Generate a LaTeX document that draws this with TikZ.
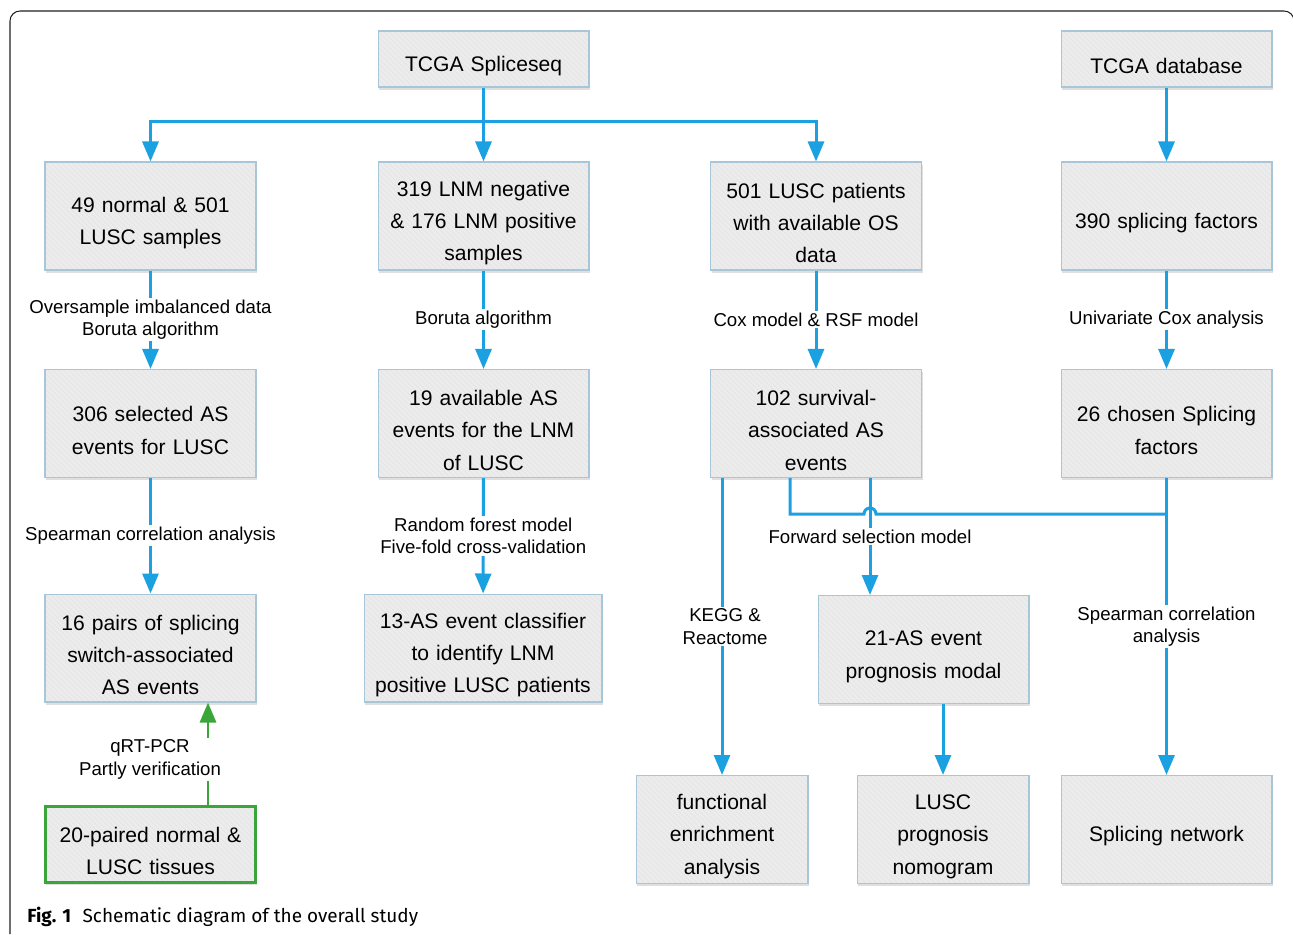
\documentclass[tikz,border=0pt]{standalone}
\usepackage{fontspec}
\setmainfont{Liberation Sans}
\newfontfamily\capfont{Fira Sans}
\usetikzlibrary{arrows.meta,patterns,shadows}
\definecolor{flowblue}{RGB}{27,161,226}
\definecolor{boxedge}{RGB}{168,198,218}
\definecolor{boxfill}{RGB}{236,236,236}
\definecolor{checkgreen}{RGB}{58,166,58}
\tikzset{
	box/.style={draw=boxedge, line width=0.6pt, align=center, text width=4cm,
		font=\fontsize{12}{18.4}\selectfont, minimum width=4.22cm, minimum height=2.16cm, inner sep=0pt,
		drop shadow={shadow xshift=0.6pt, shadow yshift=-1.6pt, opacity=0.25},
		preaction={fill=boxfill}, preaction={pattern=north west lines, pattern color=white!80!gray},
		execute at begin node={\rule{0pt}{16.6pt}}},
	flow/.style={draw=flowblue, line width=1.7pt, -{Triangle[length=4mm,width=3.2mm]}},
	flowline/.style={draw=flowblue, line width=1.7pt},
	verify/.style={draw=checkgreen, line width=1.7pt, -{Triangle[length=4mm,width=3.2mm]}},
	lbl/.style={fill=white, align=center, font=\fontsize{10.6}{12.8}\selectfont, inner sep=1pt},
}

\begin{document}
\begin{tikzpicture}[x=0.02cm, y=-0.02cm]
			%%%%% START %%%%%
			\useasboundingbox (0,0) rectangle (1293,934);
			\draw[gray!25!black, line width=0.6pt, rounded corners=0.2cm] (10,934) -- (10,11) -- (1294,11) -- (1294,934);
			
			\node[box, minimum height=1.12cm] (spliceseq) at (483.5,59) {TCGA Spliceseq};
			\node[box, minimum height=1.12cm] (tcgadb) at (1166.5,59) {TCGA database};
			
			\node[box] (normal) at (150.5,216) {49 normal \& 501\\LUSC samples};
			\node[box] (lnm) at (483.5,216) {319 LNM negative\\\& 176 LNM positive\\samples};
			\node[box] (os) at (816,216) {501 LUSC patients\\with available OS\\data};
			\node[box] (sf) at (1166.5,216) {390 splicing factors};
			
			\node[box] (sel) at (150.5,423.5) {306 selected AS\\events for LUSC};
			\node[box] (lnmas) at (483.5,423.5) {19 available AS\\events for the LNM\\of LUSC};
			\node[box] (surv) at (816,423.5) {102 survival-\\associated AS\\events};
			\node[box] (sfsel) at (1166.5,423.5) {26 chosen Splicing\\factors};
			
			\node[box] (pairs) at (150.5,648) {16 pairs of splicing\\switch-associated\\AS events};
			\node[box, minimum width=4.76cm, text width=4.6cm] (clf) at (483,648) {13-AS event classifier\\to identify LNM\\positive LUSC patients};
			\node[box] (prog) at (923.5,649.5) {21-AS event\\prognosis modal};
			
			\node[box, draw=checkgreen, line width=1.7pt, minimum height=1.52cm] (tissue) at (150.5,844) {20-paired normal \&\\LUSC tissues};
			\node[box, minimum width=3.44cm, text width=3.3cm] (func) at (722,829.5) {functional\\enrichment\\analysis};
			\node[box, minimum width=3.44cm, text width=3.3cm] (nomo) at (943,829.5) {LUSC\\prognosis\\nomogram};
			\node[box] (net) at (1166.5,829.5) {Splicing network};
			
			\coordinate (bus) at (483.5,121);
			\coordinate (join) at (790,514);
			\coordinate (fwd) at (870,514);
			\coordinate (qpcr) at (208,754);
			
			\draw[flow] (spliceseq) -- (lnm);
			\draw[flow] (bus) -| (normal);
			\draw[flow] (bus) -| (os);
			\draw[flow] (tcgadb) -- (sf);
			
			\draw[flow] (normal) -- node[lbl] {Oversample imbalanced data\\Boruta algorithm} (sel);
			\draw[flow] (lnm) -- node[lbl] {Boruta algorithm} (lnmas);
			\draw[flow] (os) -- node[lbl] {Cox model \& RSF model} (surv);
			\draw[flow] (sf) -- node[lbl] {Univariate Cox analysis} (sfsel);
			
			\draw[flow] (sel) -- node[lbl] {Spearman correlation analysis} (pairs);
			\draw[flow] (lnmas) -- node[lbl] {Random forest model\\Five-fold cross-validation} (clf);
			\draw[flow] (surv.south -| fwd) -- node[lbl] {Forward selection model} (prog.north -| fwd);
			\draw[flowline] (surv.south -| join) -- (join) -- ([xshift=-0.12cm]fwd) arc[start angle=180, end angle=0, radius=0.12cm] -- (sfsel |- join);
			
			\draw[flow] (surv.south -| func) -- node[lbl, xshift=0.06cm] {KEGG \&\\Reactome} (func);
			\draw[flow] (prog.south -| nomo) -- (nomo);
			\draw[flow] (sfsel) -- node[lbl] {Spearman correlation\\analysis} (net);
			
			\draw[verify] (tissue.north -| qpcr) -- node[lbl, pos=0.44, xshift=-1.16cm] {qRT-PCR\\Partly verification} (pairs.south -| qpcr);
			
			\node[anchor=base west, inner sep=0pt, font=\capfont\fontsize{10.8}{12}\selectfont] (caption) at (27,922) {\textbf{Fig. 1}\hspace{0.6em}Schematic diagram of the overall study};
			%%%%% END %%%%%
\end{tikzpicture}
\end{document}
